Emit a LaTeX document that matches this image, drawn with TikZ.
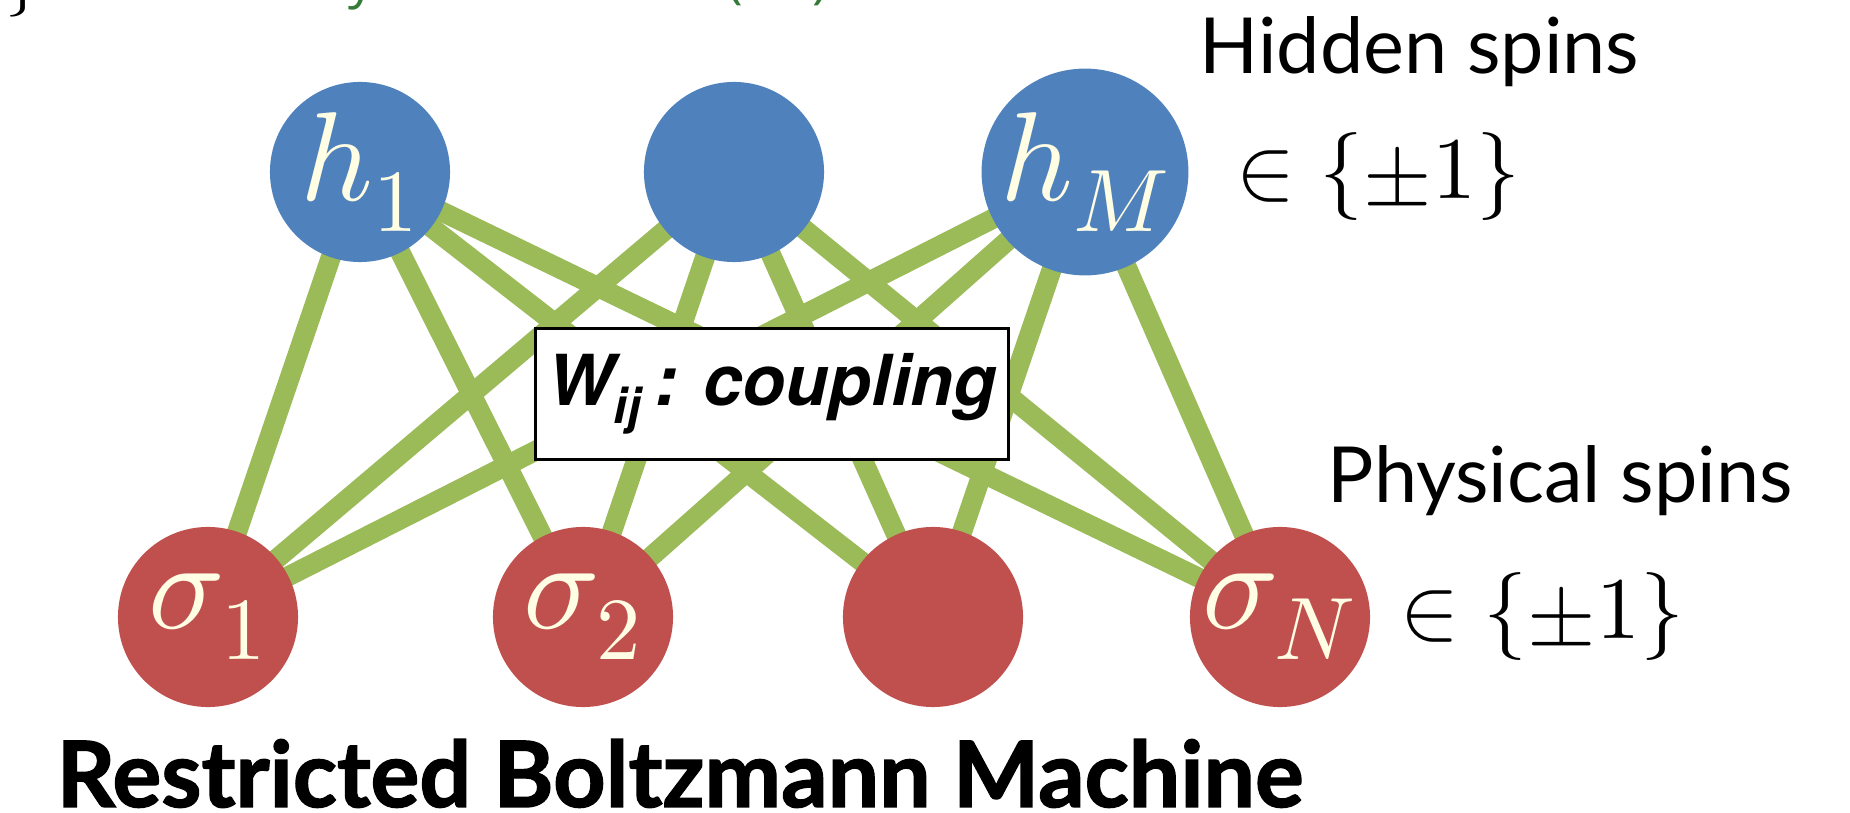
\documentclass[tikz,border=0pt]{standalone}
\usepackage{fontspec}
\usepackage{unicode-math}
\setmathfont{Latin Modern Math}
\setsansfont{Lato}
\newfontfamily\herosfont{TeX Gyre Heros}
\newfontfamily\refsfont{Open Sans}
\usetikzlibrary{positioning,backgrounds}
\definecolor{hidblue}{HTML}{4F81BD}
\definecolor{visred}{HTML}{C0504D}
\definecolor{wgreen}{HTML}{9BBB59}
\definecolor{refgreen}{HTML}{357A38}
\definecolor{labelivory}{HTML}{FFFDE3}
\tikzset{
	spinnode/.style={circle, minimum size=1.8cm, inner sep=0pt, text=labelivory, font=\fontsize{36}{40}\selectfont},
	hidspin/.style={spinnode, fill=hidblue},
	visspin/.style={spinnode, fill=visred},
	coupling/.style={wgreen, line width=0.2cm},
	wbox/.style={draw, fill=white, line width=1pt, minimum width=4.7cm, minimum height=1.31cm, font=\herosfont\bfseries\itshape\fontsize{20}{24}\selectfont},
	spinlabel/.style={font=\sffamily\fontsize{22}{26}\selectfont, inner sep=0pt, anchor=base west},
	spinset/.style={font=\fontsize{25}{30}\selectfont, inner sep=0pt, anchor=west},
}

\begin{document}
\begin{tikzpicture}[x=0.01cm, y=-0.01cm]
		%%%%% START %%%%%
		\useasboundingbox (0,0) rectangle (1850,813);
		
		% reference line, cut at the top edge
		\begin{scope}
			\clip (0,0) rectangle (1850,813);
			\node[inner sep=0pt, anchor=base west, font=\fontsize{20}{24}\selectfont] (refbrace) at (5,0) {\}};
			\node[inner sep=0pt, anchor=base west, text=refgreen, font=\refsfont\fontsize{15}{18}\selectfont] (refline) at (72,-2) {Carleo\&Troyer Science 355(’17)};
		\end{scope}
		
		% hidden layer
		\node[hidspin] (h1) at (360,172) {$h_1$};
		\node[hidspin] (hm) at (734,172) {};
		\node[hidspin] (hM) at (1085,172) {$h_M$};
		
		% physical layer
		\node[visspin] (s1) at (208,617) {$\sigma_1$};
		\node[visspin] (s2) at (583,617) {$\sigma_2$};
		\node[visspin] (s3) at (933,617) {};
		\node[visspin] (sN) at (1280,617) {$\sigma_N$};
		
		\begin{scope}[on background layer]
			\foreach \h in {h1,hm,hM}
				\foreach \v in {s1,s2,s3,sN}
					\draw[coupling] (\h.center) -- (\v.center);
		\end{scope}
		
		\node[wbox] (wij) at (772,394) {W\textsubscript{ij}\,: coupling};
		
		\node[spinlabel] (hidlbl) at (1199,74) {Hidden spins};
		\node[spinset] (hidset) at (1236,177) {$\in\{\pm1\}$};
		\node[spinlabel] (phylbl) at (1327,503) {Physical spins};
		\node[spinset] (physet) at (1400,617) {$\in\{\pm1\}$};
		
		\node[inner sep=0pt, anchor=base west, font=\sffamily\bfseries\fontsize{26}{30}\selectfont\addfontfeatures{FakeBold=1.5}] (title) at (56,807) {Restricted Boltzmann Machine};
		%%%%% END %%%%%
	\end{tikzpicture}
\end{document}
